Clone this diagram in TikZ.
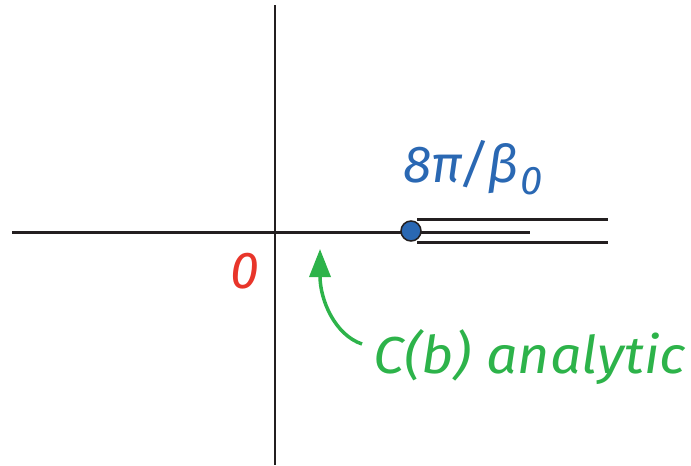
\documentclass[tikz,border=0pt]{standalone}
\usepackage{fontspec}
\setmainfont{Fira Sans}
\usetikzlibrary{arrows.meta}
\definecolor{myblue}{HTML}{2A68B3}
\definecolor{myred}{HTML}{E8352A}
\definecolor{mygreen}{HTML}{2DB34A}
\definecolor{ink}{HTML}{231F20}
\tikzset{
  vaxis/.style={ink, line width=2pt},
  cutline/.style={ink, line width=3pt},
  lbl/.style={font=\fontsize{52}{52}\selectfont\itshape, inner sep=0pt},
}
\begin{document}
\begin{tikzpicture}[x=1pt,y=-1pt]
\useasboundingbox (0,0) rectangle (691,466);
% axes
\coordinate (xl) at (12,232);
\coordinate (yt) at (275,5);
\coordinate (yb) at (275,465);
\draw[vaxis] (yt) -- (yb);
% branch cut
\coordinate (mr) at (530,232);
\coordinate (ul) at (417,219);
\coordinate (ur) at (608,219);
\coordinate (ll) at (417,242);
\coordinate (lr) at (608,242);
\draw[cutline] (xl) -- (mr);
\draw[cutline] (ul) -- (ur);
\draw[cutline] (ll) -- (lr);
\node[circle, fill=myblue, draw=ink, line width=1.5pt, minimum size=20pt, inner sep=0pt] (bp) at (411,231) {};
% labels
\node[lbl, text=myblue, anchor=base west] (lab) at (403,182) {8π/β\hspace{2pt}\raisebox{-0.24em}{\fontsize{40}{40}\selectfont 0}};
\node[lbl, text=myred, anchor=base west] (zero) at (230,288) {0};
\node[lbl, text=mygreen, anchor=base west] (ca) at (373,373) {\scalebox{1.07}[1]{C(b) analytic}};
% arrow
\coordinate (as) at (362,344);
\coordinate (ae) at (320,249);
\draw[mygreen, line width=3.5pt, -{Triangle[length=28pt,width=21pt]}] (as) .. controls (335,335) and (320,300) .. (ae);
\end{tikzpicture}
\end{document}
